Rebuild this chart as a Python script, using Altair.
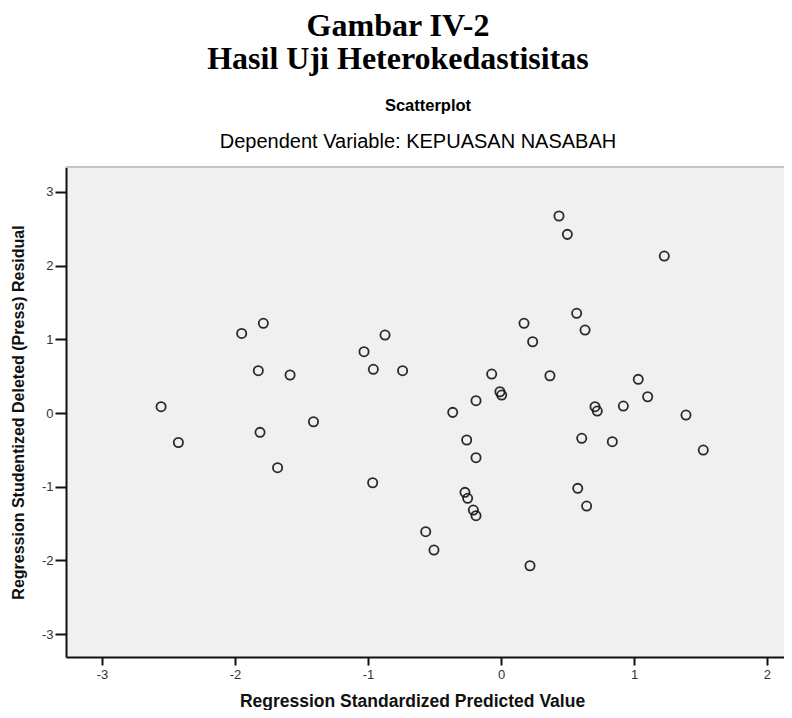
import altair as alt
import pandas as pd

pred = [-2.556, -2.426, -1.95, -1.787, -1.825, -1.812, -1.68, -1.586, -1.41,
        -1.03, -0.96, -0.965, -0.872, -0.74, -0.566, -0.504, -0.363, -0.271,
        -0.251, -0.258, -0.208, -0.188, -0.188, -0.188, -0.07, -0.008, 0.005,
        0.173, 0.238, 0.218, 0.368, 0.436, 0.499, 0.569, 0.632, 0.577, 0.607,
        0.644, 0.707, 0.724, 0.837, 0.92, 1.032, 1.103, 1.228, 1.391, 1.521]
resid = [0.086, -0.40, 1.08, 1.217, 0.574, -0.262, -0.742, 0.516, -0.118,
         0.832, 0.593, -0.946, 1.058, 0.574, -1.61, -1.859, 0.009, -1.076,
         -1.157, -0.366, -1.316, -1.393, 0.167, -0.606, 0.529, 0.289, 0.244,
         1.217, 0.967, -2.072, 0.506, 2.673, 2.424, 1.353, 1.126, -1.022, -0.343,
         -1.262, 0.086, 0.027, -0.389, 0.095, 0.457, 0.221, 2.13, -0.027, -0.502]

x_ticks = [-3, -2, -1, 0, 1, 2]
y_ticks = [-3, -2, -1, 0, 1, 2, 3]

title_lines = ["Gambar IV-2", "Hasil Uji Heterokedastisitas"]
chart_title = "Scatterplot"
chart_subtitle = "Dependent Variable: KEPUASAN NASABAH"
x_title = "Regression Standardized Predicted Value"
y_title = "Regression Studentized Deleted (Press) Residual"

df = pd.DataFrame({"pred": pred, "resid": resid})

W, H = 718, 490
X0, Y0 = 66, 167  # plot origin on the page

points = alt.Chart(df).mark_point(
    shape="circle", filled=False, size=85, strokeWidth=1.8, color="#151515", opacity=0.9
).encode(
    x=alt.X("pred:Q",
            scale=alt.Scale(domain=[-3.271, 2.128], nice=False, zero=False),
            axis=alt.Axis(values=x_ticks, labelExpr="'' + datum.value", title=x_title,
                          titleX=346, titleY=44, titleBaseline="middle",
                          titleFont="Liberation Sans", titleFontSize=17.5,
                          titleFontWeight="bold", titleColor="#111",
                          labelFont="Liberation Sans", labelFontSize=13,
                          labelColor="#333", labelPadding=3,
                          tickColor="#111", tickSize=8, tickWidth=2,
                          domainColor="#111", domainWidth=2, grid=False)),
    y=alt.Y("resid:Q",
            scale=alt.Scale(domain=[-3.31, 3.338], nice=False, zero=False),
            axis=alt.Axis(values=y_ticks, labelExpr="'' + datum.value", title=y_title,
                          titleX=-48, titleY=245, titleBaseline="middle",
                          titleAngle=270,
                          titleFont="Liberation Sans", titleFontSize=16,
                          titleFontWeight="bold", titleColor="#111",
                          labelFont="Liberation Sans", labelFontSize=13,
                          labelColor="#333", labelPadding=2,
                          tickColor="#111", tickSize=11, tickWidth=2,
                          domainColor="#111", domainWidth=2, grid=False)),
)

top_line = alt.Chart(pd.DataFrame({"a": [0]})).mark_rule(
    color="#c4c4c4", strokeWidth=2
).encode(x=alt.value(0), x2=alt.value(W), y=alt.value(0))

def text_layer(txt, px, py, font, size, weight):
    return alt.Chart(pd.DataFrame({"t": [txt]})).mark_text(
        font=font, fontSize=size, fontWeight=weight, align="center",
        baseline="alphabetic", color="#000"
    ).encode(text="t:N", x=alt.value(px - X0), y=alt.value(py - Y0))

t1 = text_layer(title_lines[0], 398, 36, "Liberation Serif", 32, "bold")
t2 = text_layer(title_lines[1], 398, 69, "Liberation Serif", 32, "bold")
t3 = text_layer(chart_title, 428, 111, "Liberation Sans", 16.5, "bold")
t4 = text_layer(chart_subtitle, 418, 148, "Liberation Sans", 20, "normal")

chart = alt.layer(points, top_line, t1, t2, t3, t4).properties(
    width=W, height=H,
    autosize=alt.AutoSizeParams(type="none"),
    padding={"left": X0 - 8, "top": Y0 - 8, "right": 0, "bottom": 53},
    background="white",
).configure_view(fill="#f0f0f0", stroke=None)

chart.save("out.html", embed_options={"renderer": "svg", "actions": False})
